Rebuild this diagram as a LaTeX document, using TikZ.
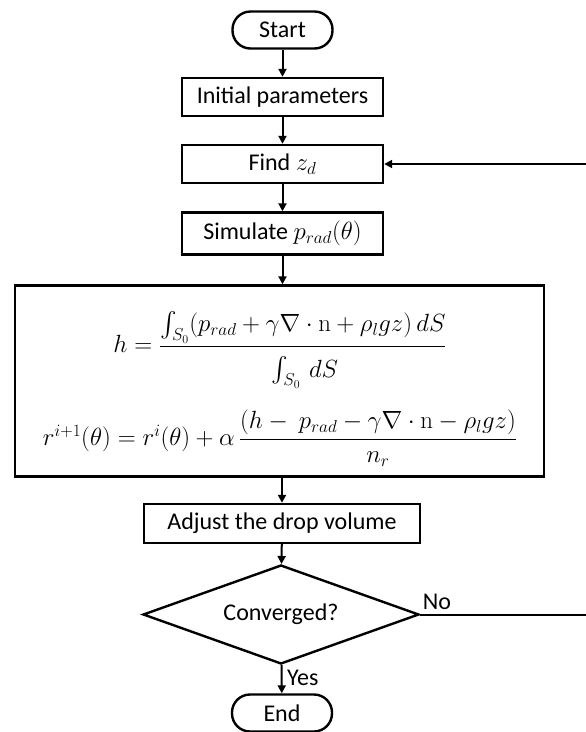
\documentclass[tikz,border=0pt]{standalone}
\usepackage{amsmath}
\usepackage[no-math]{fontspec}
\setmainfont{Carlito}
\usetikzlibrary{arrows.meta,shapes.geometric}

\tikzset{
  box/.style={draw, line width=2.4pt, rectangle, minimum height=38pt, inner sep=0pt},
  terminal/.style={draw, line width=2.4pt, rectangle, rounded corners=18pt, minimum width=100pt, minimum height=37pt, inner sep=0pt},
  decision/.style={draw, line width=2.4pt, diamond, aspect=2.79, minimum width=276pt, minimum height=99pt, inner sep=0pt},
  flow/.style={line width=2pt, -{Triangle[length=8pt,width=8pt]}},
  lbl/.style={inner sep=0pt}
}

\begin{document}
\begin{tikzpicture}[x=1pt,y=-1pt,font=\fontsize{24}{29}\selectfont]
\useasboundingbox (0,0) rectangle (586,732);

\node[terminal] (start) at (282.5,30) {Start};
\node[box, minimum width=201pt] (init) at (282.5,97) {Initial parameters};
\node[box, minimum width=201pt] (find) at (282.5,164) {Find $z_d$};
\node[box, minimum width=201pt, minimum height=42pt] (sim) at (282.5,233.5) {Simulate $p_{rad}(\theta)$};
\node[box, minimum width=529pt, minimum height=191pt] (upd) at (279.5,381) {};
\node[lbl] (eqh) at (280,350)
  {$h=\dfrac{\textstyle\int_{S_0}(p_{rad}+\gamma\nabla\cdot\mathrm{n}+\rho_l gz)\,dS}{\rule{0pt}{27pt}\textstyle\int_{S_0}\,dS}$};
\node[lbl] (eqr) at (280,438)
  {$r^{i+1}(\theta)=r^{i}(\theta)+\alpha\,\dfrac{(h-\ p_{rad}-\gamma\nabla\cdot\mathrm{n}-\rho_l gz)}{n_r}$};
\node[box, minimum width=276pt, minimum height=39pt] (adj) at (282,523.5) {Adjust the drop volume};
\node[decision] (conv) at (281,614.5) {Converged?};
\node[terminal] (end) at (282,713) {End};

\node[lbl] (no) at (437,602) {No};
\node[lbl, anchor=west] (yes) at (287,678) {Yes};

% return path runs just past the right margin
\coordinate (rail) at (593,0);

\draw[flow] (start) -- (init);
\draw[flow] (init) -- (find);
\draw[flow] (find) -- (sim);
\draw[flow] (sim.south) -- (sim.south |- upd.north);
\draw[flow] (upd.south -| adj.north) -- (adj.north);
\draw[flow] (adj) -- (conv);
\draw[flow] (conv) -- (end);
\draw[flow] (conv.east) -- (conv.east -| rail) -- (find.east -| rail) -- (find.east);
\end{tikzpicture}
\end{document}
